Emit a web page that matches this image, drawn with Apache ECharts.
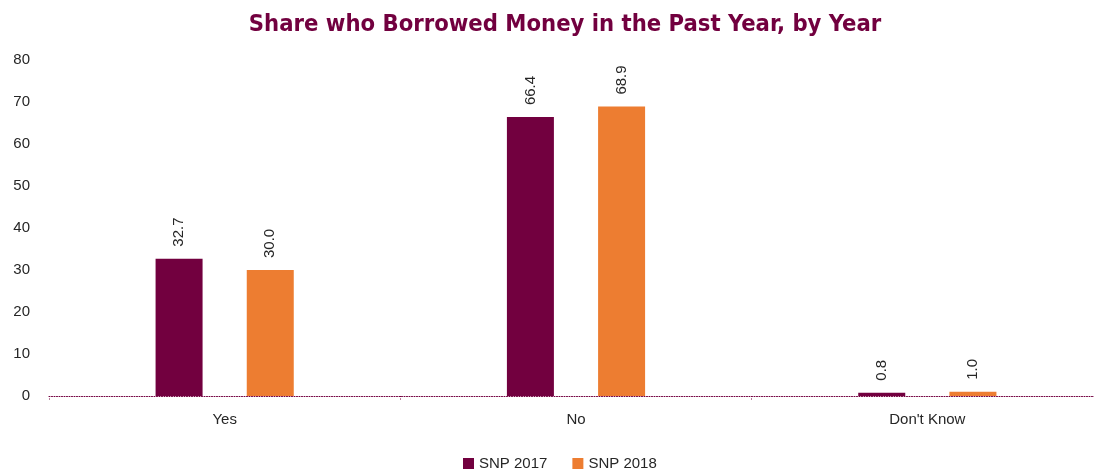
<!DOCTYPE html>
<html><head><meta charset="utf-8">
<script src="https://cdn.jsdelivr.net/npm/echarts@6/dist/echarts.min.js"></script>
<style>html,body{margin:0;padding:0;background:#fff}#c{width:1094px;height:473px}</style>
</head><body><div id="c"></div>
<script>
const categories = ['Yes', 'No', "Don't Know"];
const seriesNames = ['SNP 2017', 'SNP 2018'];
const snp2017 = [32.7, 66.4, 0.8];
const snp2018 = [30.0, 68.9, 1.0];
const colors = ['#72003f', '#ed7d31'];

const chart = echarts.init(document.getElementById('c'), null, {renderer: 'canvas'});
const lbl = {
  show: true, position: 'top', rotate: 90, align: 'left', verticalAlign: 'middle',
  distance: 12, color: '#262626', fontSize: 15, fontFamily: 'Liberation Sans',
  formatter: p => p.value.toFixed(1)
};
chart.setOption({
  animation: false,
  title: {
    text: 'Share who Borrowed Money in the Past Year, by Year',
    left: 560, top: 8, textAlign: 'center',
    textStyle: {color: '#72003f', fontSize: 23.6, fontWeight: 'bold', fontFamily: 'DejaVu Sans Condensed, DejaVu Sans, sans-serif'}
  },
  legend: {
    top: 451, left: 458, itemWidth: 11, itemHeight: 11, itemGap: 25, icon: 'rect',
    textStyle: {color: '#262626', fontSize: 15, fontFamily: 'Liberation Sans'},
    data: seriesNames
  },
  grid: {left: 49, width: 1054, top: 60, height: 336, outerBoundsMode: 'none', containLabel: false},
  xAxis: {
    type: 'category', data: categories,
    axisLine: {lineStyle: {color: '#72003f', type: [1, 1.5], width: 1}},
    axisTick: {show: true, length: 5, lineStyle: {color: '#72003f', type: [1, 1.5]}},
    axisLabel: {color: '#262626', fontSize: 15, fontFamily: 'Liberation Sans', margin: 16}
  },
  yAxis: {
    type: 'value', min: 0, max: 80, interval: 10,
    splitLine: {show: false}, axisLine: {show: false}, axisTick: {show: false},
    axisLabel: {color: '#262626', fontSize: 15, fontFamily: 'Liberation Sans', margin: 19}
  },
  series: [
    {name: seriesNames[0], type: 'bar', data: snp2017, barWidth: 47, barGap: '94%', itemStyle: {color: colors[0]}, label: lbl},
    {name: seriesNames[1], type: 'bar', data: snp2018, barWidth: 47, itemStyle: {color: colors[1]}, label: lbl}
  ]
});
</script></body></html>
